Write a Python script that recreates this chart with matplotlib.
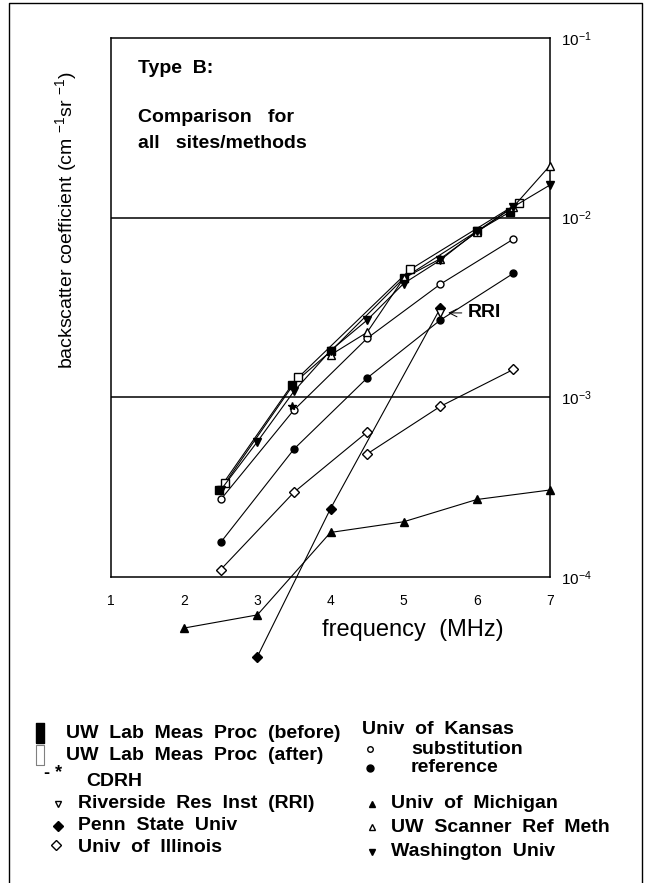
import matplotlib
matplotlib.use("Agg")
import matplotlib.pyplot as plt
import numpy as np

plt.rcParams["font.family"] = ["Liberation Sans", "DejaVu Sans"]
plt.rcParams["mathtext.fontset"] = "custom"
plt.rcParams["mathtext.rm"] = "Liberation Sans"

# data (frequency MHz, backscatter coefficient)
before_f = [2.47, 3.47, 4.0, 5.0, 6.0, 6.46]
before_v = [3.05e-4, 1.17e-3, 1.8e-3, 4.6e-3, 8.4e-3, 1.08e-2]

after_f = [2.56, 3.56, 5.09, 6.57]
after_v = [3.33e-4, 1.29e-3, 5.15e-3, 1.21e-2]

cdrh_f = [3.47]
cdrh_v = [9.0e-4]

rri_f = [5.5]
rri_v = [2.95e-3]

penn_f = [3.0, 4.0, 5.5]
penn_v = [3.6e-5, 2.4e-4, 3.13e-3]

illinois_f1 = [2.5, 3.5, 4.5]
illinois_v1 = [1.10e-4, 2.96e-4, 6.4e-4]
illinois_f2 = [4.5, 5.5, 6.5]
illinois_v2 = [4.84e-4, 8.9e-4, 1.43e-3]

kansas_f = [2.5, 3.5, 4.5, 5.5, 6.5]
kansas_sub_v = [2.70e-4, 8.5e-4, 2.13e-3, 4.26e-3, 7.6e-3]
kansas_ref_v = [1.56e-4, 5.15e-4, 1.28e-3, 2.69e-3, 4.9e-3]

michigan_f = [2, 3, 4, 5, 6, 7]
michigan_v = [5.2e-5, 6.15e-5, 1.77e-4, 2.03e-4, 2.70e-4, 3.05e-4]

scanner_f = [4.0, 4.5, 5.0, 5.5, 6.0, 6.5, 7.0]
scanner_v = [1.72e-3, 2.3e-3, 4.6e-3, 5.9e-3, 8.3e-3, 1.15e-2, 1.95e-2]

wash_f = [2.5, 3.0, 3.5, 4.0, 4.5, 5.0, 5.5, 6.0, 6.5, 7.0]
wash_v = [3.05e-4, 5.66e-4, 1.08e-3, 1.82e-3, 2.69e-3, 4.3e-3, 5.8e-3, 8.4e-3, 1.15e-2, 1.52e-2]

x_ticks = [1, 2, 3, 4, 5, 6, 7]
y_ticks = [1e-4, 1e-3, 1e-2, 1e-1]
y_tick_labels = [r"$\mathregular{10^{-4}}$", r"$\mathregular{10^{-3}}$",
                 r"$\mathregular{10^{-2}}$", r"$\mathregular{10^{-1}}$"]

W, H = 645, 883
fig = plt.figure(figsize=(W / 100, H / 100), dpi=100)
fig.patch.set_facecolor("white")

ax = fig.add_axes([111 / W, 1 - 577 / H, (550 - 111) / W, (577 - 38) / H])
ax.set_yscale("log")
ax.set_xlim(1, 7)
ax.set_ylim(1e-4, 1e-1)

lw = 0.8
ms = 6
kw = dict(color="black", lw=lw, clip_on=False, zorder=3)

ax.plot(before_f, before_v, marker="s", ms=ms, mfc="black", mec="black", **kw)
ax.plot(after_f, after_v, marker="s", ms=ms, mfc="white", mec="black", **kw)
ax.plot(kansas_f, kansas_sub_v, marker="o", ms=ms - 1, mfc="white", mec="black", **kw)
ax.plot(kansas_f, kansas_ref_v, marker="o", ms=ms - 1, mfc="black", mec="black", **kw)
ax.plot(michigan_f, michigan_v, marker="^", ms=ms, mfc="black", mec="black", **kw)
ax.plot(scanner_f, scanner_v, marker="^", ms=ms, mfc="white", mec="black", **kw)
ax.plot(wash_f, wash_v, marker="v", ms=ms, mfc="black", mec="black", **kw)
ax.plot(illinois_f1, illinois_v1, marker="D", ms=ms - 1, mfc="white", mec="black", **kw)
ax.plot(illinois_f2, illinois_v2, marker="D", ms=ms - 1, mfc="white", mec="black", **kw)
ax.plot(penn_f, penn_v, marker="D", ms=ms - 1, mfc="black", mec="black", **kw)
ax.plot(rri_f, rri_v, marker="v", ms=ms, mfc="white", mec="black", ls="none",
        clip_on=False, zorder=4)
ax.plot(cdrh_f, cdrh_v, marker="*", ms=ms, color="black", ls="none",
        clip_on=False, zorder=4)

ax.annotate("RRI", xy=(rri_f[0] + 0.07, rri_v[0]), xytext=(5.87, rri_v[0]),
            fontsize=14, fontweight="bold", va="center",
            arrowprops=dict(arrowstyle="->", color="black", lw=0.7))

# horizontal decade lines
for v in [1e-3, 1e-2]:
    ax.axhline(v, color="black", lw=1.1, zorder=1)

ax.set_xticks(x_ticks)
ax.set_xticklabels([str(t) for t in x_ticks], fontsize=10)
ax.tick_params(axis="x", length=0, pad=12)
ax.yaxis.tick_right()
ax.set_yticks(y_ticks)
ax.set_yticklabels(y_tick_labels, fontsize=11)
ax.yaxis.set_minor_locator(matplotlib.ticker.NullLocator())
ax.tick_params(axis="y", length=0, pad=8)
for s in ax.spines.values():
    s.set_linewidth(1.1)

ax.text(0.0615, 0.9425, "Type  B:", transform=ax.transAxes, fontsize=14,
        fontweight="bold", va="center")
ax.text(0.0615, 0.8516, "Comparison   for", transform=ax.transAxes, fontsize=14,
        fontweight="bold", va="center")
ax.text(0.0615, 0.805, "all   sites/methods", transform=ax.transAxes, fontsize=14,
        fontweight="bold", va="center")

fig.text(413 / W, 1 - 630 / H, "frequency  (MHz)", fontsize=17, ha="center", va="center")
fig.text(66 / W, 1 - 220 / H,
         r"backscatter coefficient (cm $\mathregular{^{-1}}$sr $\mathregular{^{-1}}$)",
         fontsize=14, rotation=90, ha="center", va="center")

# legend drawn in pixel space
lg = fig.add_axes([0, 0, 1, 1], zorder=-1)
lg.set_xlim(0, W)
lg.set_ylim(H, 0)
lg.axis("off")

# outer frame
lg.plot([9, 9, 642, 642], [H, 3, 3, H], color="black", lw=1.0)

bar = [(-0.4, -1), (0.4, -1), (0.4, 1), (-0.4, 1), (-0.4, -1)]
lg.plot([40], [733], marker=bar, ms=15, mfc="black", mec="black")
lg.plot([40], [755], marker=bar, ms=14, mfc="white", mec="gray", mew=0.8)
lg.text(44, 773, "- *", fontsize=13, fontweight="bold", va="center")
lg.plot([58], [804], marker="v", ms=5, mfc="white", mec="black")
lg.plot([58], [826], marker="D", ms=5, mfc="black", mec="black")
lg.plot([56], [845], marker="D", ms=5, mfc="white", mec="black")
lg.plot([370], [749], marker="o", ms=4, mfc="white", mec="black")
lg.plot([370], [768], marker="o", ms=5, mfc="black", mec="black")
lg.plot([372], [804], marker="^", ms=5, mfc="black", mec="black")
lg.plot([372], [827], marker="^", ms=5, mfc="white", mec="black")
lg.plot([372], [852], marker="v", ms=5, mfc="black", mec="black")

leg_kw = dict(fontsize=14, fontweight="bold", va="center")
lg.text(66, 733, "UW  Lab  Meas  Proc  (before)", **leg_kw)
lg.text(66, 755, "UW  Lab  Meas  Proc  (after)", **leg_kw)
lg.text(86, 782, "CDRH", **leg_kw)
lg.text(78, 804, "Riverside  Res  Inst  (RRI)", **leg_kw)
lg.text(78, 826, "Penn  State  Univ", **leg_kw)
lg.text(78, 848, "Univ  of  Illinois", **leg_kw)
lg.text(362, 729, "Univ  of  Kansas", **leg_kw)
lg.text(411, 749, "substitution", **leg_kw)
lg.text(411, 768, "reference", **leg_kw)
lg.text(391, 804, "Univ  of  Michigan", **leg_kw)
lg.text(391, 827, "UW  Scanner  Ref  Meth", **leg_kw)
lg.text(391, 852, "Washington  Univ", **leg_kw)

fig.savefig("out.png", dpi=100)
